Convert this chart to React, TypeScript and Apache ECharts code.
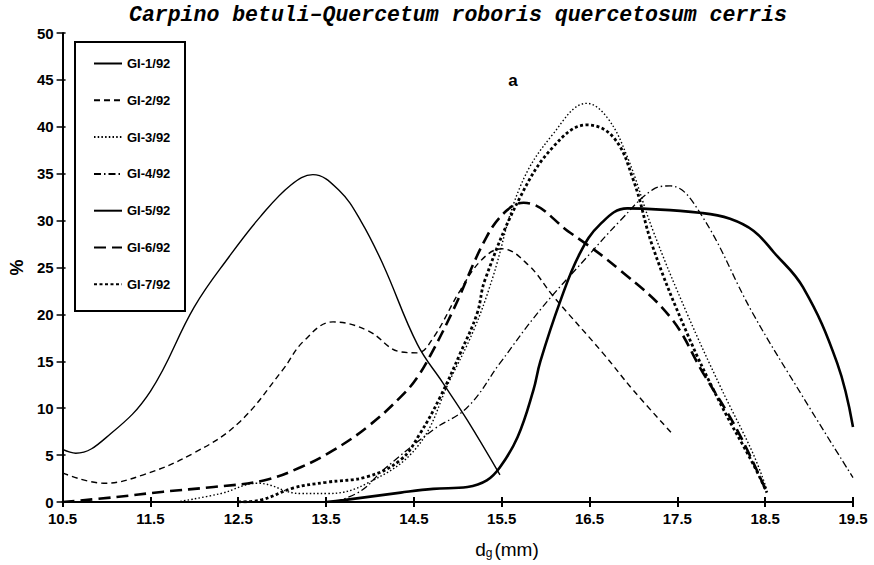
import React, { useEffect, useRef } from "react";
import * as echarts from "echarts";

const titleText = "Carpino betuli–Quercetum roboris quercetosum cerris";
const panelLabel = "a";
const yTicks = { min: 0, max: 50, interval: 5 };
const xTicks = { min: 10.5, max: 19.5, interval: 1 };

const seriesNames = ["GI-1/92", "GI-2/92", "GI-3/92", "GI-4/92", "GI-5/92", "GI-6/92", "GI-7/92"];

const gi1: [number, number][] = [
  [10.5, 5.6], [10.65, 5.2], [11.05, 7.3], [11.5, 11.8], [12, 20.8], [12.4, 26.2],
  [12.75, 30.4], [13.1, 33.8], [13.35, 34.9], [13.65, 33.2], [13.9, 29.9], [14.15, 25.3],
  [14.54, 16.8], [14.83, 12.7], [15.11, 8.7], [15.48, 2.9],
];
const gi2: [number, number][] = [
  [10.5, 3.1], [10.97, 2.0], [11.42, 2.9], [11.99, 5.2], [12.5, 8.4], [13.0, 14.0],
  [13.25, 17.2], [13.58, 19.2], [13.97, 18.3], [14.35, 16.0], [14.54, 15.9], [14.72, 17.5],
  [15.03, 22.6], [15.27, 25.8], [15.5, 27.0], [15.8, 25.3], [16.09, 21.9], [16.65, 15.9],
  [17.0, 11.9], [17.44, 7.3],
];
const gi3: [number, number][] = [
  [11.8, 0], [12.3, 0.9], [12.72, 2.0], [13.21, 0.9], [13.51, 0.9], [13.97, 2.0],
  [14.54, 5.9], [14.91, 13.0], [15.18, 18.3], [15.39, 23.7], [15.71, 33.6], [16.09, 39.3],
  [16.47, 42.5], [16.7, 41.0], [16.93, 36.8], [17.22, 29.0], [17.61, 20.1], [17.99, 12.3],
  [18.36, 5.2], [18.52, 1.3],
];
const gi4: [number, number][] = [
  [13.6, 0], [13.9, 1.2], [14.15, 3.4], [14.72, 7.7], [15.11, 10.1], [15.48, 14.8],
  [15.94, 20.5], [16.47, 26.1], [16.85, 30.0], [17.22, 33.3], [17.42, 33.7], [17.76, 30.8],
  [18.36, 20.1], [18.93, 11.2], [19.5, 2.6],
];
const gi5: [number, number][] = [
  [13.5, 0], [13.7, 0.2], [14.35, 1.0], [14.72, 1.4], [15.11, 1.6], [15.33, 2.3],
  [15.48, 3.7], [15.68, 6.9], [15.86, 11.9], [15.94, 15.0], [16.17, 21.5], [16.39, 26.5],
  [16.62, 29.6], [16.93, 31.3], [17.79, 30.8], [18.1, 30.2], [18.37, 28.9], [18.6, 26.6],
  [18.93, 22.9], [19.32, 14.8], [19.5, 8.0],
];
const gi6: [number, number][] = [
  [10.5, 0], [11.08, 0.5], [11.65, 1.1], [12.22, 1.6], [12.79, 2.3], [13.21, 3.7],
  [13.58, 5.5], [13.97, 8.0], [14.35, 11.2], [14.54, 13.3], [14.72, 16.2], [14.95, 20.5],
  [15.33, 28.3], [15.56, 31.1], [15.75, 31.9], [16.28, 28.7], [16.85, 24.7], [17.42, 19.7],
  [17.79, 13.8], [18.18, 7.7], [18.52, 1.0],
];
const gi7: [number, number][] = [
  [12.5, 0], [12.75, 0.2], [13.13, 1.5], [13.5, 2.1], [13.97, 2.7], [14.35, 4.5],
  [14.57, 7.3], [14.8, 11.2], [15.03, 15.9], [15.22, 20.1], [15.31, 23.7], [15.71, 32.5],
  [16.09, 37.9], [16.47, 40.2], [16.77, 38.9], [17.0, 34.3], [17.22, 27.2], [17.61, 18.0],
  [17.99, 10.5], [18.36, 4.1], [18.52, 1.0],
];

const seriesData = [gi1, gi2, gi3, gi4, gi5, gi6, gi7];

const lineStyles: any[] = [
  { width: 1.4, type: "solid" },
  { width: 1.4, type: [6, 4] },
  { width: 1.4, type: [1.5, 2.2] },
  { width: 1.3, type: [7, 3, 1.5, 3] },
  { width: 2.6, type: "solid" },
  { width: 2.6, type: [12, 6] },
  { width: 2.8, type: [3, 2.5] },
];

export default function App() {
  const ref = useRef<HTMLDivElement>(null);
  useEffect(() => {
    if (!ref.current) return;
    const chart = echarts.init(ref.current, null, { renderer: "svg" });
    const labelFont = { fontFamily: "Liberation Sans, Arial, sans-serif", fontWeight: "bold" as const, fontSize: 15, color: "#000" };
    const option: any = {
      animation: false,
      backgroundColor: "#fff",
      grid: { left: 62, right: 21, top: 33, bottom: 63 },
      xAxis: [
        {
          type: "value", ...xTicks,
          axisLine: { show: true, lineStyle: { color: "#000", width: 2 } },
          axisTick: { show: true, length: 5, lineStyle: { color: "#000", width: 2 } },
          axisLabel: { ...labelFont, margin: 9, formatter: (v: number) => v.toFixed(1) },
          splitLine: { show: false },
        },
        {
          type: "value", ...xTicks, position: "bottom",
          axisLine: { show: false },
          axisTick: { show: true, inside: true, length: 5, lineStyle: { color: "#000", width: 2 } },
          axisLabel: { show: false },
          splitLine: { show: false },
        },
      ],
      yAxis: [
        {
          type: "value", ...yTicks, position: "left",
          name: "%", nameLocation: "middle", nameGap: 30, nameRotate: 90,
          nameTextStyle: { fontFamily: "Liberation Sans, Arial, sans-serif", fontWeight: "bold", fontSize: 18, color: "#000" },
          axisLine: { show: true, lineStyle: { color: "#000", width: 2 } },
          axisTick: { show: true, length: 6, lineStyle: { color: "#000", width: 1.5 } },
          axisLabel: { ...labelFont, margin: 9 },
          splitLine: { show: false },
        },
        {
          type: "value", ...yTicks, position: "left",
          axisLine: { show: false },
          axisTick: { show: true, inside: true, length: 3, lineStyle: { color: "#000", width: 1.5 } },
          axisLabel: { show: false },
          splitLine: { show: false },
        },
      ],
      legend: {
        orient: "vertical",
        left: 88,
        top: 52,
        itemWidth: 28,
        itemHeight: 14,
        itemGap: 23.8,
        z: 20,
        data: seriesNames,
        itemStyle: { opacity: 0 },
        textStyle: { fontFamily: "Liberation Sans Narrow, Liberation Sans, sans-serif", fontWeight: "bold", fontSize: 13, color: "#000" },
      },
      graphic: [
        {
          type: "rect", z: 15,
          shape: { x: 75, y: 42, width: 110, height: 269 },
          style: { fill: "#fff", stroke: "#000", lineWidth: 2 },
        },
        {
          type: "text", z: 20, x: 458, y: 15,
          style: {
            text: titleText, textAlign: "center", textVerticalAlign: "middle",
            fontFamily: "Liberation Mono, DejaVu Sans Mono, monospace", fontStyle: "italic", fontWeight: "bold", fontSize: 21.5, fill: "#000",
          },
        },
        {
          type: "text", z: 20, x: 513, y: 80,
          style: {
            text: panelLabel, textAlign: "center", textVerticalAlign: "middle",
            fontFamily: "Liberation Sans, Arial, sans-serif", fontWeight: "bold", fontSize: 17, fill: "#000",
          },
        },
        {
          type: "text", z: 20, x: 507, y: 549,
          style: {
            text: "d{s|g}(mm)", textAlign: "center", textVerticalAlign: "middle",
            fontFamily: "Liberation Sans, Arial, sans-serif", fontSize: 19, fill: "#000",
            rich: { s: { fontFamily: "Liberation Sans, Arial, sans-serif", fontSize: 12, verticalAlign: "bottom", padding: [8, 2, 0, 0] } },
          },
        },
      ],
      series: seriesData.map((d, i) => ({
        name: seriesNames[i],
        type: "line",
        xAxisIndex: 0,
        yAxisIndex: 0,
        data: d,
        smooth: 0.4,
        symbol: "none",
        showSymbol: false,
        color: "#000",
        lineStyle: { color: "#000", ...lineStyles[i] },
        z: 2,
      })),
    };
    chart.setOption(option);
    return () => chart.dispose();
  }, []);
  return <div ref={ref} style={{ position: "fixed", left: 0, top: 0, width: 874, height: 565, background: "#fff" }} />;
}
